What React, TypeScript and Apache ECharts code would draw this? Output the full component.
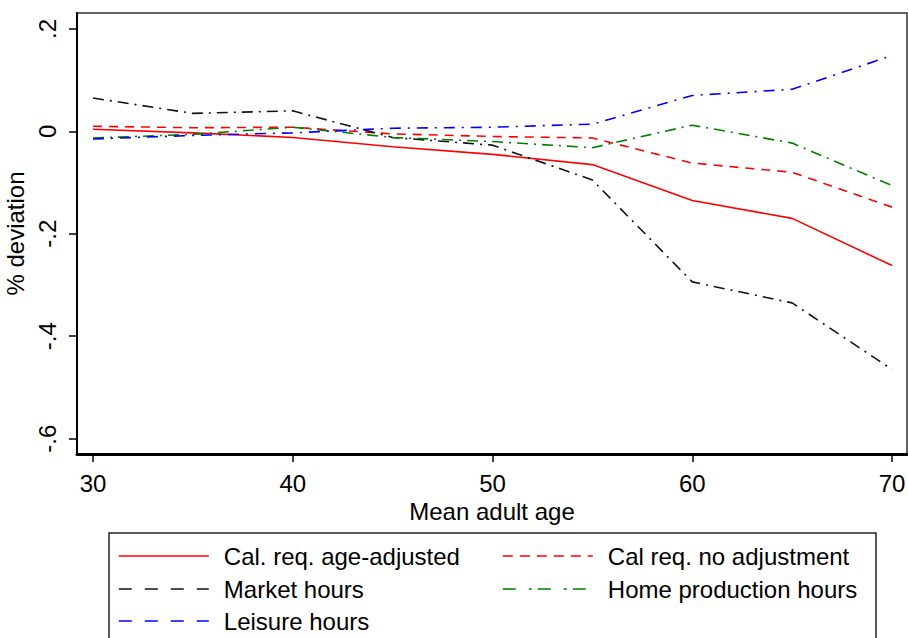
import React, { useEffect, useRef } from "react";
import * as echarts from "echarts";

const ages = [30, 35, 40, 45, 50, 55, 60, 65, 70];
const calAdjusted = [0.004, -0.003, -0.012, -0.03, -0.045, -0.065, -0.135, -0.17, -0.262];
const calNoAdjust = [0.01, 0.007, 0.008, -0.005, -0.01, -0.013, -0.062, -0.08, -0.148];
const marketHours = [0.065, 0.035, 0.04, -0.012, -0.027, -0.095, -0.294, -0.335, -0.465];
const homeHours = [-0.013, -0.006, 0.008, -0.012, -0.02, -0.032, 0.012, -0.023, -0.106];
const leisureHours = [-0.015, -0.008, -0.003, 0.006, 0.008, 0.014, 0.07, 0.082, 0.148];

const xTicks = [30, 40, 50, 60, 70];
const yTicks = [-0.6, -0.4, -0.2, 0, 0.2];

const FONT = "Liberation Sans, Arial, sans-serif";
const FS = 24;

const pairs = (ys: number[]) => ages.map((a, i) => [a, ys[i]]);

export default function App() {
  const ref = useRef<HTMLDivElement>(null);
  useEffect(() => {
    const chart = echarts.init(ref.current!, null, { renderer: "svg" });
    const fmtY = (v: number) => {
      const r = Math.round(v * 10) / 10;
      if (r === 0) return "0";
      const s = String(Math.abs(r)).replace(/^0/, "");
      return (r < 0 ? "-" : "") + s;
    };
    const mk = (name: string, ys: number[], color: string, type: any) => ({
      name,
      type: "line",
      data: pairs(ys),
      symbol: "none",
      showSymbol: false,
      lineStyle: { color, width: 1.6, type },
      itemStyle: { color },
      z: 3,
    });
    const textStyle = { fontFamily: FONT, fontSize: FS, color: "#000", padding: [0, 0, 0, 10] };
    const leg = (name: string, left: number, top: number, color: string, type: any) => ({
      orient: "horizontal",
      left,
      top,
      padding: 0,
      itemWidth: 90,
      itemHeight: 24,
      textStyle,
      itemStyle: { opacity: 0 },
      data: [{ name, itemStyle: { opacity: 0 }, lineStyle: { color, width: 1.6, type } }],
    });
    chart.setOption({
      animation: false,
      backgroundColor: "#fff",
      grid: {
        left: 77,
        top: 13,
        right: 1,
        bottom: 184,
        containLabel: false,
        outerBoundsMode: "none",
        show: true,
        borderColor: "#333",
        borderWidth: 1.5,
      },
      xAxis: {
        type: "value",
        min: 29.2,
        max: 70.75,
        name: "Mean adult age",
        nameLocation: "middle",
        nameGap: 33,
        nameTextStyle: { fontFamily: FONT, fontSize: FS, color: "#000" },
        axisLine: { show: true, onZero: false, lineStyle: { color: "#000", width: 3 } },
        axisTick: { show: true, length: 8, customValues: xTicks, lineStyle: { color: "#000", width: 1.5 } },
        axisLabel: {
          customValues: xTicks,
          margin: 17,
          fontFamily: FONT,
          fontSize: FS,
          color: "#000",
        },
        splitLine: { show: false },
      },
      yAxis: {
        type: "value",
        min: -0.63,
        max: 0.231,
        name: "% deviation",
        nameLocation: "middle",
        nameGap: 28,
        nameRotate: 90,
        nameTextStyle: { fontFamily: FONT, fontSize: FS, color: "#000" },
        axisLine: { show: true, onZero: false, lineStyle: { color: "#000", width: 2 } },
        axisTick: { show: true, length: 8, customValues: yTicks, lineStyle: { color: "#000", width: 1.5 } },
        axisLabel: {
          customValues: yTicks,
          rotate: 90,
          margin: 18,
          fontFamily: FONT,
          fontSize: FS,
          color: "#000",
          formatter: fmtY,
        },
        splitLine: { show: false },
      },
      legend: [
        leg("Cal. req. age-adjusted", 118, 544, "#ff0000", "solid"),
        leg("Market hours", 118, 577, "#111111", [13, 13]),
        leg("Leisure hours", 118, 609, "#0000ff", [13, 13]),
        leg("Cal req. no adjustment", 502, 544, "#ff0000", [10, 7]),
        leg("Home production hours", 502, 577, "#008000", [13, 13, 3, 6]),
      ],
      graphic: [
        {
          type: "rect",
          shape: { x: 109, y: 533, width: 767, height: 120 },
          style: { fill: "none", stroke: "#222", lineWidth: 1.5 },
          z: 0,
        },
      ],
      series: [
        mk("Cal. req. age-adjusted", calAdjusted, "#ff0000", "solid"),
        mk("Cal req. no adjustment", calNoAdjust, "#ff0000", [9, 7]),
        mk("Market hours", marketHours, "#111111", [11, 6, 2, 6]),
        mk("Home production hours", homeHours, "#008000", [11, 6, 2, 6]),
        mk("Leisure hours", leisureHours, "#0000ff", [11, 7, 2, 7]),
      ],
    });
    return () => chart.dispose();
  }, []);
  return <div ref={ref} style={{ width: 908, height: 638, position: "absolute", left: 0, top: 0 }} />;
}
